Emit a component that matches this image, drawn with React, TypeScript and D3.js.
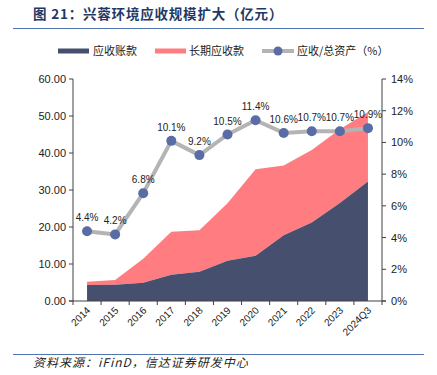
import React from "react";
import * as d3 from "d3";

const categories = ["2014","2015","2016","2017","2018","2019","2020","2021","2022","2023","2024Q3"];
const receivables = [4.3, 4.4, 4.9, 7.1, 7.9, 10.9, 12.2, 17.8, 21.2, 26.5, 32.3];
const longTermReceivables = [0.9, 1.3, 6.5, 11.6, 11.2, 15.5, 23.4, 18.8, 19.6, 19.9, 18.8];
const ratio = [4.4, 4.2, 6.8, 10.1, 9.2, 10.5, 11.4, 10.6, 10.7, 10.7, 10.9];
const leftTicks = [0, 10, 20, 30, 40, 50, 60];
const rightTicks = [0, 2, 4, 6, 8, 10, 12, 14];

const W = 437, H = 375;
const L = 73, R = 382, T = 79, B = 301;
const NUM_FONT = "'Liberation Sans', Arial, sans-serif";
const CJK_FONT = "'Noto Sans CJK SC', sans-serif";
const DARK = "#46506E";
const RED = "#FF7C80";
const GRAY = "#B4B4B4";
const DOT = "#5A6CA6";
const AXIS = "#404040";

export default function App() {
  const x = d3.scalePoint<string>().domain(categories).range([L, R]).padding(0.5);
  const step = x.step();
  const yL = d3.scaleLinear().domain([0, 60]).range([B, T]);
  const yR = d3.scaleLinear().domain([0, 14]).range([B, T]);

  const totals = receivables.map((v, i) => v + longTermReceivables[i]);
  const areaDark = d3.area<number>()
    .x((_, i) => x(categories[i])!)
    .y0(yL(0)).y1((d) => yL(d));
  const areaRed = d3.area<number>()
    .x((_, i) => x(categories[i])!)
    .y0((_, i) => yL(receivables[i])).y1((d) => yL(d));
  const line = d3.line<number>()
    .x((_, i) => x(categories[i])!)
    .y((d) => yR(d));

  const boundaries = categories.map((c) => x(c)! - step / 2).concat([R]);

  return (
    <svg width={W} height={H} style={{ position: "absolute", left: 0, top: 0, background: "#fff" }}>
      {/* title */}
      <text x={33} y={19} fontFamily={CJK_FONT} fontWeight="bold" fontSize={13.5} fill="#1F3864" letterSpacing={0.8}>
        图 21：兴蓉环境应收规模扩大（亿元）
      </text>
      <line x1={13} x2={424} y1={28.5} y2={28.5} stroke="#4F74B0" strokeWidth={1.2} />

      {/* legend */}
      <g fontFamily={CJK_FONT} fontSize={11} fill="#222">
        <rect x={58} y={48.5} width={31} height={5} fill={DARK} />
        <text x={93} y={55}>应收账款</text>
        <rect x={155} y={48.5} width={31} height={5} fill={RED} />
        <text x={189} y={55}>长期应收款</text>
        <line x1={262} x2={294} y1={51} y2={51} stroke={GRAY} strokeWidth={4} />
        <circle cx={278} cy={51} r={4.5} fill={DOT} />
        <text x={297} y={55}>应收/总资产（%）</text>
      </g>

      {/* areas */}
      <path d={areaRed(totals)!} fill={RED} />
      <path d={areaDark(receivables)!} fill={DARK} />

      {/* line */}
      <path d={line(ratio)!} fill="none" stroke={GRAY} strokeWidth={4} strokeLinejoin="round" />
      {ratio.map((v, i) => (
        <circle key={i} cx={x(categories[i])!} cy={yR(v)} r={5} fill={DOT} />
      ))}
      {ratio.map((v, i) => (
        <text key={"l" + i} x={x(categories[i])!} y={yR(v) - 10} textAnchor="middle"
          fontFamily={NUM_FONT} fontSize={10} fill="#222">
          {v.toFixed(1)}%
        </text>
      ))}

      {/* left axis */}
      <line x1={L} x2={L} y1={T} y2={B} stroke={AXIS} strokeWidth={1} />
      {leftTicks.map((t) => (
        <g key={t}>
          <line x1={L - 4} x2={L} y1={yL(t)} y2={yL(t)} stroke={AXIS} />
          <text x={66} y={yL(t) + 4} textAnchor="end" fontFamily={NUM_FONT} fontSize={11} fill="#222">
            {t.toFixed(2)}
          </text>
        </g>
      ))}

      {/* right axis */}
      <line x1={R} x2={R} y1={T} y2={B} stroke={AXIS} strokeWidth={1} />
      {rightTicks.map((t) => (
        <g key={t}>
          <line x1={R} x2={R + 4} y1={yR(t)} y2={yR(t)} stroke={AXIS} />
          <text x={391} y={yR(t) + 4} textAnchor="start" fontFamily={NUM_FONT} fontSize={11} fill="#222">
            {t}%
          </text>
        </g>
      ))}

      {/* x axis */}
      <line x1={L - 4} x2={R + 4} y1={B} y2={B} stroke={AXIS} strokeWidth={1} />
      {boundaries.map((b, i) => (
        <line key={i} x1={b} x2={b} y1={B} y2={B + 4} stroke={AXIS} />
      ))}
      {categories.map((c) => (
        <text key={c} transform={`translate(${x(c)! + 4},${B + 10}) rotate(-45)`} textAnchor="end"
          fontFamily={NUM_FONT} fontSize={10} fill="#222">
          {c}
        </text>
      ))}

      {/* source */}
      <line x1={13} x2={424} y1={354.5} y2={354.5} stroke="#4F74B0" strokeWidth={1.2} />
      <text x={33} y={367} fontFamily={CJK_FONT} fontStyle="italic" fontSize={12} fill="#222"
        letterSpacing={1}>
        资料来源：iFinD，信达证券研发中心
      </text>
    </svg>
  );
}
